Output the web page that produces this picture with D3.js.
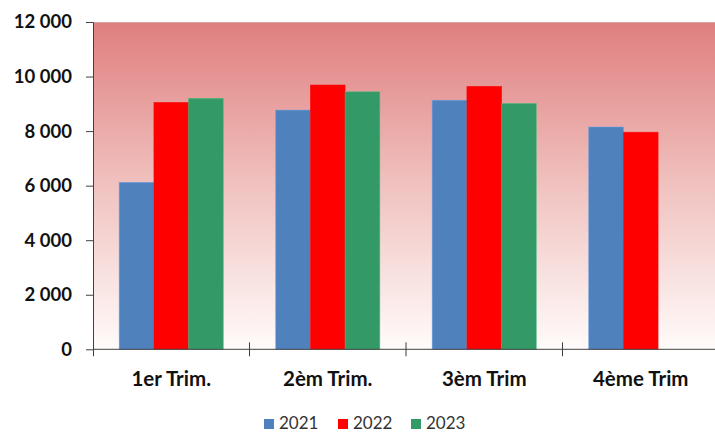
<!DOCTYPE html>
<html>
<head>
<meta charset="utf-8">
<script src="https://cdn.jsdelivr.net/npm/d3@7"></script>
<style>
  body { margin: 0; background: #fff; }
  svg { display: block; }
</style>
</head>
<body>
<script>
(function () {

    const categories = ['1er Trim.', '2èm Trim.', '3èm Trim', '4ème Trim'];
    const series = ['2021', '2022', '2023'];
    const colors = ['#4f81bd', '#ff0000', '#339966'];
    const values2021 = [6120, 8770, 9130, 8150];
    const values2022 = [9050, 9690, 9640, 7960];
    const values2023 = [9200, 9440, 9010, null];
    const yTicks = [0, 2000, 4000, 6000, 8000, 10000, 12000];

    const values = [values2021, values2022, values2023];

    const W = 715, H = 436;
    const margin = {top: 22, left: 93};
    const plotW = 626, plotH = 327.3;

    const svg = d3.select('body')
        .append('svg')
        .attr('width', W)
        .attr('height', H);

    const defs = svg.append('defs');
    const grad = defs.append('linearGradient')
        .attr('id', 'bg')
        .attr('x1', 0).attr('y1', 0)
        .attr('x2', 0).attr('y2', 1);
    grad.append('stop').attr('offset', '0%').attr('stop-color', '#df7f7f');
    grad.append('stop').attr('offset', '50%').attr('stop-color', '#f0c2bf');
    grad.append('stop').attr('offset', '100%').attr('stop-color', '#fffbfa');

    const g = svg.append('g')
        .attr('transform', 'translate(' + margin.left + ', ' + margin.top + ')');

    const x = d3.scaleBand()
        .domain(categories)
        .range([0, plotW])
        .paddingInner(0)
        .paddingOuter(0);

    const xInner = d3.scaleBand()
        .domain(series)
        .range([0, x.bandwidth()])
        .paddingOuter(0.755)
        .paddingInner(0);

    const y = d3.scaleLinear()
        .domain([0, 12000])
        .range([plotH, 0]);

    g.append('rect')
        .attr('width', plotW)
        .attr('height', plotH)
        .attr('fill', 'url(#bg)');

    g.append('line')
        .attr('x1', 0).attr('x2', plotW)
        .attr('y1', 0.5).attr('y2', 0.5)
        .attr('stroke', '#d9a3a3')
        .attr('stroke-width', 1);

    series.forEach(function (s, i) {
        const rows = categories.map(function (c, j) {
            return {cat: c, v: values[i][j]};
        }).filter(function (d) { return d.v != null; });

        g.append('g')
            .selectAll('rect')
            .data(rows)
            .join('rect')
            .attr('x', d => x(d.cat) + xInner(s))
            .attr('y', d => y(d.v))
            .attr('width', xInner.bandwidth())
            .attr('height', d => y(0) - y(d.v))
            .attr('fill', colors[i])
            .attr('stroke', d3.color(colors[i]).brighter(0.6))
            .attr('stroke-opacity', 0.6)
            .attr('stroke-width', 0.8);
    });

    // y axis
    const yAxis = d3.axisLeft(y)
        .tickValues(yTicks)
        .tickSize(7)
        .tickPadding(14)
        .tickFormat(d => d3.format(',')(d).replace(',', ' '));

    const ya = g.append('g').call(yAxis);
    ya.select('.domain').attr('stroke', '#404040').attr('d', 'M-7,0.5H0.5V' + (plotH + 7));
    ya.selectAll('.tick line').attr('stroke', '#404040');
    ya.selectAll('.tick text')
        .attr('font-family', 'Lato, "Open Sans", sans-serif')
        .attr('font-weight', 'bold')
        .attr('font-size', 18.5)
        .attr('fill', '#111')
        .style('white-space', 'pre');

    // x axis
    const xa = g.append('g')
        .attr('transform', 'translate(0, ' + plotH + ')');
    xa.append('line')
        .attr('x1', 0).attr('x2', plotW)
        .attr('stroke', '#404040');
    xa.selectAll('.xt')
        .data(categories.slice(1))
        .join('line')
        .attr('class', 'xt')
        .attr('x1', d => x(d)).attr('x2', d => x(d))
        .attr('y1', -7).attr('y2', 7)
        .attr('stroke', '#404040');
    xa.selectAll('text')
        .data(categories)
        .join('text')
        .attr('x', d => x(d) + x.bandwidth() / 2)
        .attr('y', 37)
        .attr('text-anchor', 'middle')
        .attr('font-family', 'Lato, "Open Sans", sans-serif')
        .attr('font-weight', 'bold')
        .attr('font-size', 20.5)
        .attr('fill', '#111')
        .text(d => d);

    // legend
    const legendX = [264, 338, 411];
    const lg = svg.append('g');
    series.forEach(function (s, i) {
        lg.append('rect')
            .attr('x', legendX[i])
            .attr('y', 419)
            .attr('width', 10)
            .attr('height', 10)
            .attr('fill', colors[i]);
        lg.append('text')
            .attr('x', legendX[i] + 15)
            .attr('y', 429)
            .attr('font-family', 'Lato, "Open Sans", sans-serif')
            .attr('font-size', 17)
            .attr('fill', '#333')
            .text(s);
    });

})();
</script>
</body>
</html>
